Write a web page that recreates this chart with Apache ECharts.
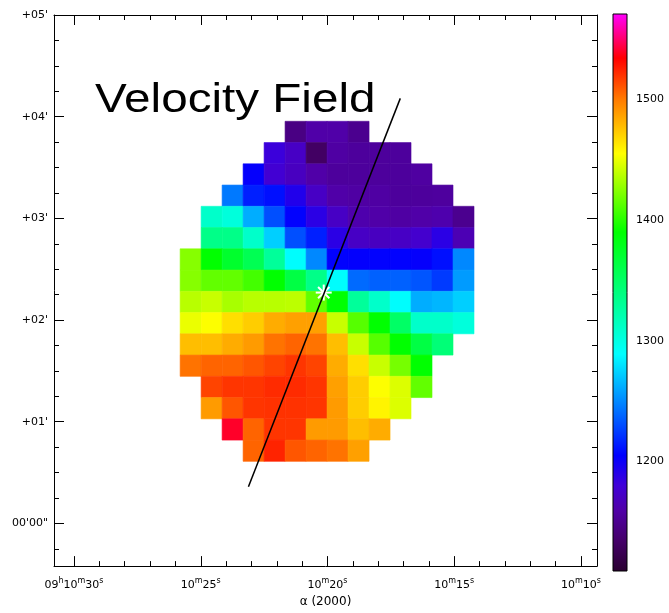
<!DOCTYPE html>
<html>
<head>
<meta charset="utf-8">
<script src="https://cdn.jsdelivr.net/npm/echarts@6/dist/echarts.min.js"></script>
<style>
  html, body { margin: 0; padding: 0; background: #fff; }
  #chart { width: 669px; height: 613px; }
</style>
</head>
<body>
<div id="chart"></div>
<script>
// Line-of-sight velocity (km/s) of each map pixel; first row is the northernmost,
// first column the easternmost. null = no measurement.
const velocityRows = [
  [null, null, null, null, null, 1145, 1160, 1160, 1150, null, null, null, null, null],
  [null, null, null, null, 1182, 1172, 1132, 1158, 1155, 1155, 1155, null, null, null],
  [null, null, null, 1203, 1178, 1170, 1160, 1155, 1155, 1155, 1155, 1157, null, null],
  [null, null, 1245, 1215, 1210, 1192, 1172, 1160, 1158, 1158, 1155, 1155, 1156, null],
  [null, 1310, 1303, 1262, 1231, 1205, 1188, 1172, 1162, 1160, 1158, 1160, 1162, 1150],
  [null, 1336, 1336, 1310, 1273, 1231, 1215, 1188, 1172, 1170, 1172, 1176, 1188, 1165],
  [1424, 1390, 1372, 1357, 1329, 1289, 1250, 1205, 1204, 1205, 1205, 1203, 1210, 1250],
  [1424, 1415, 1415, 1407, 1390, 1363, 1336, 1289, 1240, 1237, 1237, 1233, 1224, 1256],
  [1437, 1441, 1433, 1437, 1437, 1438, 1415, 1390, 1329, 1310, 1289, 1262, 1265, 1273],
  [1450, 1455, 1466, 1472, 1483, 1487, 1487, 1441, 1412, 1390, 1350, 1310, 1310, 1303],
  [1477, 1477, 1483, 1489, 1502, 1506, 1502, 1477, 1441, 1412, 1390, 1363, 1343, null],
  [1502, 1506, 1506, 1510, 1515, 1519, 1515, 1483, 1466, 1441, 1420, 1390, null, null],
  [null, 1515, 1519, 1519, 1522, 1522, 1519, 1487, 1472, 1455, 1446, 1415, null, null],
  [null, 1489, 1510, 1519, 1520, 1520, 1519, 1489, 1472, 1459, 1446, null, null, null],
  [null, null, 1540, 1506, 1519, 1519, 1489, 1489, 1477, 1483, null, null, null, null],
  [null, null, null, 1506, 1524, 1510, 1506, 1502, 1487, null, null, null, null, null]
];

// Pixel grid: centre of the first column / row and the pixel spacing.
// RA in seconds of time past 09h10m, Dec in arcmin past the whole degree.
const raFirst = 25.40, raStep = 0.828;
const decFirst = 3.85, decStep = 0.209;

// Slit used for the position-velocity cut, and the kinematic centre.
const slitEnds = [[17.13, 4.18], [23.12, 0.36]];
const kinematicCentre = [[20.15, 2.27]];

// Axes
const raRange = [9.37, 30.79];
const raMajor = [10, 15, 20, 25, 30];
const raLabels = ['10m10s', '10m15s', '10m20s', '10m25s', '09h10m30s'];
const raMinor = [11, 12, 13, 14, 16, 17, 18, 19, 21, 22, 23, 24, 26, 27, 28, 29];
const decRange = [-0.42, 5.0];
const decMajor = [0, 1, 2, 3, 4, 5];
const decLabels = ["00'00\"", "+01'", "+02'", "+03'", "+04'", "+05'"];
const decMinor = [-0.25, 0.25, 0.5, 0.75, 1.25, 1.5, 1.75, 2.25, 2.5, 2.75,
                  3.25, 3.5, 3.75, 4.25, 4.5, 4.75];
const velRange = [1109, 1571];
const velTicks = [1200, 1300, 1400, 1500];

// Colour table: [velocity, colour]
const colourTable = [
  [1109, '#2a0030'], [1135, '#45006a'], [1160, '#5000a8'], [1180, '#4000d8'],
  [1205, '#0000ff'], [1289, '#00ffff'], [1390, '#00ff00'], [1455, '#ffff00'],
  [1500, '#ff7a00'], [1534, '#ff0000'], [1571, '#ff00ff']
];

function hexToRgb(h) {
  return [parseInt(h.slice(1, 3), 16), parseInt(h.slice(3, 5), 16), parseInt(h.slice(5, 7), 16)];
}
function colourAt(v) {
  for (let i = 0; i < colourTable.length - 1; i++) {
    const [v0, c0] = colourTable[i], [v1, c1] = colourTable[i + 1];
    if (v <= v1 || i === colourTable.length - 2) {
      const t = Math.max(0, Math.min(1, (v - v0) / (v1 - v0)));
      const a = hexToRgb(c0), b = hexToRgb(c1);
      return 'rgb(' + a.map((x, k) => Math.round(x + (b[k] - x) * t)).join(',') + ')';
    }
  }
}
const nSamples = 93;
const sampledColours = [];
for (let i = 0; i < nSamples; i++) {
  sampledColours.push(colourAt(velRange[0] + (velRange[1] - velRange[0]) * i / (nSamples - 1)));
}
const barGradient = {
  type: 'linear', x: 0, y: 1, x2: 0, y2: 0,
  colorStops: colourTable.map(([v, c]) => ({
    offset: (v - velRange[0]) / (velRange[1] - velRange[0]), color: c
  }))
};

// Flatten the map into [ra, dec, velocity] points
const pixels = [];
velocityRows.forEach((row, j) => {
  row.forEach((v, i) => {
    if (v !== null) pixels.push([raFirst - i * raStep, decFirst - j * decStep, v]);
  });
});

const labelFont = { fontFamily: 'DejaVu Sans', fontSize: 11, color: '#000' };

function raFormatter(value) {
  const idx = raMajor.indexOf(Math.round(value));
  const text = idx >= 0 ? raLabels[idx] : '';
  return text.replace(/(\d+)([hms])/g, '{n|$1}{u|$2}');
}
const raRich = {
  n: { fontFamily: 'DejaVu Sans', fontSize: 11, color: '#000', verticalAlign: 'bottom', lineHeight: 14 },
  u: { fontFamily: 'DejaVu Sans', fontSize: 8, color: '#000', verticalAlign: 'top', lineHeight: 14 }
};

function xAxisOf(position, ticks, len, showLine, showLabel) {
  return {
    type: 'value', gridIndex: 0, position: position, inverse: true,
    min: raRange[0], max: raRange[1],
    splitLine: { show: false },
    axisLine: { show: showLine, onZero: false, lineStyle: { color: '#000', width: 1 } },
    axisTick: { show: true, inside: true, length: len, customValues: ticks,
                lineStyle: { color: '#000', width: 1 } },
    axisLabel: showLabel
      ? { show: true, customValues: raMajor, margin: 11, formatter: raFormatter, rich: raRich }
      : { show: false }
  };
}
function yAxisOf(position, ticks, len, showLine, showLabel) {
  return {
    type: 'value', gridIndex: 0, position: position,
    min: decRange[0], max: decRange[1],
    splitLine: { show: false },
    axisLine: { show: showLine, onZero: false, lineStyle: { color: '#000', width: 1 } },
    axisTick: { show: true, inside: true, length: len, customValues: ticks,
                lineStyle: { color: '#000', width: 1 } },
    axisLabel: showLabel
      ? Object.assign({ show: true, customValues: decMajor, margin: 6,
          formatter: v => decLabels[decMajor.indexOf(Math.round(v))] || '' }, labelFont)
      : { show: false }
  };
}

const xMain = xAxisOf('bottom', raMajor, 10, true, true);
xMain.name = 'α (2000)';
xMain.nameLocation = 'middle';
xMain.nameGap = 29;
xMain.nameTextStyle = { fontFamily: 'DejaVu Sans', fontSize: 12, color: '#000' };

const chart = echarts.init(document.getElementById('chart'), null, { renderer: 'canvas' });
chart.setOption({
  backgroundColor: '#fff',
  animation: false,
  grid: [
    { left: 54, top: 15, width: 543, height: 553 },
    { left: 613, top: 14, width: 14, height: 557 }
  ],
  xAxis: [
    xMain,
    xAxisOf('bottom', raMinor, 5, false, false),
    xAxisOf('top', raMajor, 10, true, false),
    xAxisOf('top', raMinor, 5, false, false),
    { type: 'value', gridIndex: 1, min: 0, max: 1, show: false }
  ],
  yAxis: [
    yAxisOf('left', decMajor, 10, true, true),
    yAxisOf('left', decMinor, 5, false, false),
    yAxisOf('right', decMajor, 10, true, false),
    yAxisOf('right', decMinor, 5, false, false),
    {
      type: 'value', gridIndex: 1, position: 'left', min: velRange[0], max: velRange[1],
      splitLine: { show: false }, axisLine: { show: false },
      axisTick: { show: true, inside: true, length: 4, customValues: velTicks,
                  lineStyle: { color: '#000', width: 1 } },
      axisLabel: { show: false }
    },
    {
      type: 'value', gridIndex: 1, position: 'right', min: velRange[0], max: velRange[1],
      splitLine: { show: false }, axisLine: { show: false },
      axisTick: { show: true, inside: true, length: 4, customValues: velTicks,
                  lineStyle: { color: '#000', width: 1 } },
      axisLabel: Object.assign({ show: true, customValues: velTicks, margin: 9,
                                 formatter: v => String(Math.round(v)) }, labelFont)
    }
  ],
  visualMap: {
    type: 'continuous', show: false, seriesIndex: 0, dimension: 2,
    min: velRange[0], max: velRange[1],
    inRange: { color: sampledColours }
  },
  graphic: [{
    type: 'text', x: 95, y: 81, scaleX: 1.19, z: 10,
    style: { text: 'Velocity Field', font: '40px "Liberation Sans"', fill: '#000', verticalAlign: 'top' }
  }],
  series: [
    {
      type: 'custom', name: 'velocity', xAxisIndex: 0, yAxisIndex: 0, z: 2,
      encode: { x: 0, y: 1 },
      data: pixels,
      renderItem: function (params, api) {
        const c = api.coord([api.value(0), api.value(1)]);
        const s = api.size([raStep, decStep]);
        const col = api.visual('color');
        return {
          type: 'rect',
          shape: { x: c[0] - s[0] / 2, y: c[1] - s[1] / 2, width: s[0], height: s[1] },
          style: { fill: col, stroke: col, lineWidth: 0.6 }
        };
      }
    },
    {
      type: 'custom', name: 'centre', xAxisIndex: 0, yAxisIndex: 0, z: 3,
      encode: { x: 0, y: 1 },
      data: kinematicCentre,
      renderItem: function (params, api) {
        const c = api.coord([api.value(0), api.value(1)]);
        const r = 8, children = [];
        for (let k = 0; k < 4; k++) {
          const a = k * Math.PI / 4;
          children.push({
            type: 'line',
            shape: { x1: c[0] - r * Math.cos(a), y1: c[1] - r * Math.sin(a),
                     x2: c[0] + r * Math.cos(a), y2: c[1] + r * Math.sin(a) },
            style: { stroke: '#fff', lineWidth: 2 }
          });
        }
        return { type: 'group', children: children };
      }
    },
    {
      type: 'line', name: 'slit', xAxisIndex: 0, yAxisIndex: 0, z: 4,
      data: slitEnds, symbol: 'none', silent: true,
      lineStyle: { color: '#000', width: 1.5 }
    },
    {
      type: 'custom', name: 'colourbar', xAxisIndex: 4, yAxisIndex: 4, z: 2,
      data: [[0, velRange[0]]],
      renderItem: function (params, api) {
        const p0 = api.coord([0, velRange[0]]);
        const p1 = api.coord([1, velRange[1]]);
        return {
          type: 'rect',
          shape: { x: p0[0], y: p1[1], width: p1[0] - p0[0], height: p0[1] - p1[1] },
          style: { fill: barGradient, stroke: '#000', lineWidth: 1 }
        };
      }
    }
  ]
});
</script>
</body>
</html>
